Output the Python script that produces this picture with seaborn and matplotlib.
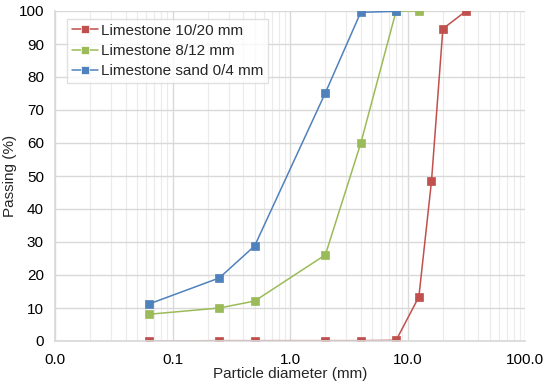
import matplotlib
matplotlib.use("Agg")
import matplotlib.pyplot as plt
import matplotlib.ticker as mticker
import seaborn as sns
import pandas as pd

# Data
series_names = ["Limestone 10/20 mm", "Limestone 8/12 mm", "Limestone sand 0/4 mm"]
x_red = [0.063, 0.25, 0.5, 2, 4, 8, 12.5, 16, 20, 31.5]
y_red = [0.0, 0.1, 0.1, 0.1, 0.1, 0.2, 13.4, 48.4, 94.6, 100.0]
x_green = [0.063, 0.25, 0.5, 2, 4, 8, 12.5]
y_green = [8.1, 10.0, 12.1, 26.1, 59.9, 100.0, 100.0]
x_blue = [0.063, 0.25, 0.5, 2, 4, 8]
y_blue = [11.2, 19.1, 28.8, 75.2, 99.6, 99.9]
colors = ["#C0504D", "#9BBB59", "#4F81BD"]
x_ticks = [0.01, 0.1, 1, 10, 100]
y_ticks = list(range(0, 101, 10))

frames = []
for name, xs, ys in zip(series_names, [x_red, x_green, x_blue], [y_red, y_green, y_blue]):
    frames.append(pd.DataFrame({"x": xs, "y": ys, "series": name}))
df = pd.concat(frames, ignore_index=True)

sns.set_theme(style="white")
plt.rcParams["font.family"] = ["Liberation Sans", "DejaVu Sans"]

fig = plt.figure(figsize=(5.5, 3.85), dpi=100)
ax = fig.add_axes([55/550, 1 - 341/385, (525-55)/550, (341-11)/385])

ax.set_xscale("log")
ax.set_xlim(0.01, 100)
ax.set_ylim(0, 100)

sns.lineplot(data=df, x="x", y="y", hue="series", hue_order=series_names,
             palette=colors, marker="s", markersize=5.5, markeredgewidth=0.5,
             linewidth=1.1, sort=False, estimator=None, ax=ax, legend=True)
for line, c in zip(ax.get_lines(), colors):
    line.set_markeredgecolor(c)

ax.set_xticks(x_ticks)
ax.xaxis.set_major_formatter(mticker.FuncFormatter(lambda v, p: f"{v:.1f}"))
ax.xaxis.set_minor_locator(mticker.LogLocator(base=10, subs=range(2, 10), numticks=20))
ax.xaxis.set_minor_formatter(mticker.NullFormatter())
ax.set_yticks(y_ticks)

ax.grid(True, which="major", color="#D9D9D9", linewidth=1.0)
ax.grid(True, which="minor", axis="x", color="#EBEBEB", linewidth=0.8)
ax.set_axisbelow(True)
for s in ["top", "right"]:
    ax.spines[s].set_visible(False)
ax.spines["left"].set_color("#D9D9D9")
ax.spines["bottom"].set_color("#D9D9D9")
ax.tick_params(axis="both", which="both", length=0, labelsize=11, colors="#000000")
ax.tick_params(axis="x", pad=9)
ax.tick_params(axis="y", pad=8)

ax.set_xlabel("Particle diameter (mm)", fontsize=11, labelpad=-0.5)
ax.set_ylabel("Passing (%)", fontsize=11, va="center")
ax.yaxis.set_label_coords(-45/470, 0.5)

leg = ax.legend(loc="upper left", bbox_to_anchor=(12/470, 1 - 8/330), fontsize=11,
                frameon=True, fancybox=False, edgecolor="#D9D9D9",
                borderpad=0.3, borderaxespad=0, handlelength=1.7,
                labelspacing=0.42, handletextpad=0.2)
leg.get_frame().set_linewidth(1.0)

fig.savefig("out.png", dpi=100)
